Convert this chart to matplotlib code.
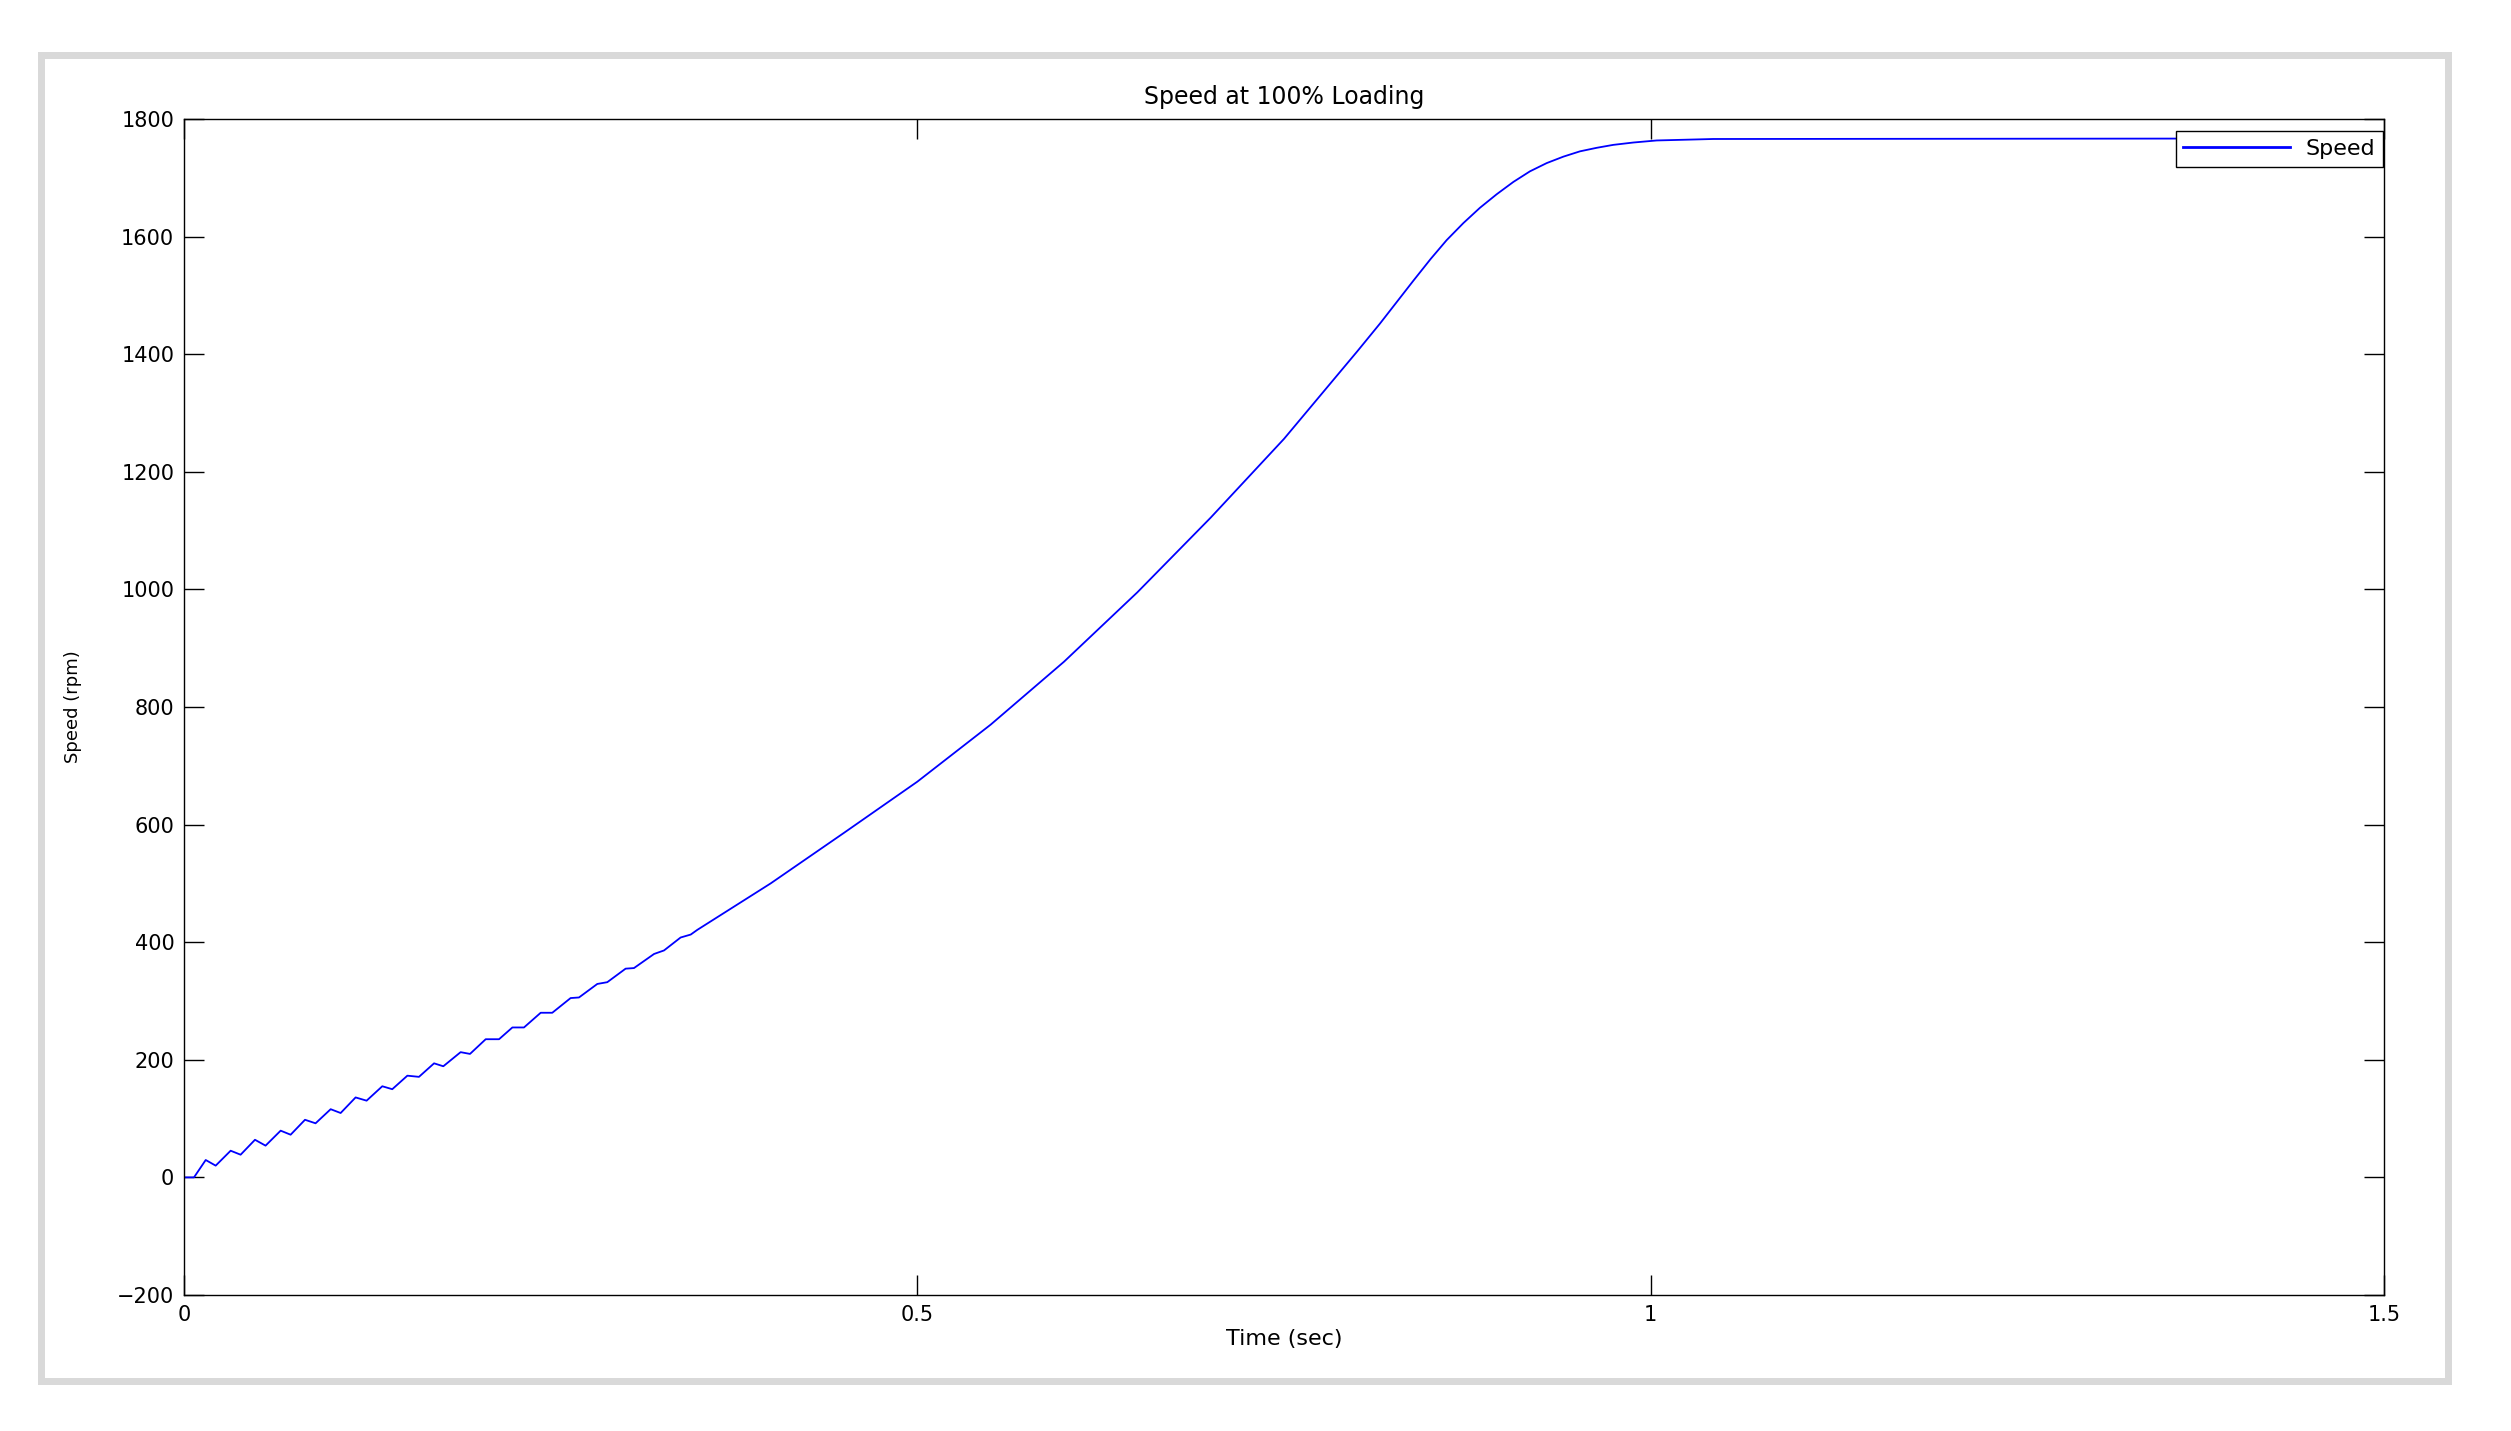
import matplotlib
matplotlib.use("Agg")
import matplotlib.pyplot as plt
from matplotlib.patches import Rectangle

# ---- data ----
time_s = [0, 0.0068, 0.0148, 0.0216, 0.0318, 0.0386, 0.0484, 0.0556, 0.0659, 0.0727,
          0.0825, 0.0897, 0.1000, 0.1068, 0.1170, 0.1245, 0.1352, 0.1420, 0.1523, 0.1602,
          0.1705, 0.1768, 0.1886, 0.1950, 0.2057, 0.2148, 0.2239, 0.2318, 0.2432, 0.2511,
          0.2636, 0.2693, 0.2818, 0.2886, 0.3011, 0.3068, 0.3205, 0.3273, 0.3386, 0.3455,
          0.35, 0.40, 0.45, 0.50, 0.55, 0.60, 0.65, 0.70, 0.75, 0.80,
          0.8154, 0.8382, 0.85, 0.8609, 0.8723, 0.8836, 0.8950, 0.9064, 0.9177, 0.9291,
          0.9405, 0.9518, 0.9632, 0.9745, 0.9882, 1.0041, 1.0427, 1.5]
speed_rpm = [0, 0, 29.6, 20, 45.4, 38.6, 64, 54, 79.5, 72.6,
             98, 92, 116, 109.5, 136, 130.5, 155, 150, 173, 171,
             194, 189, 213, 210, 235, 235, 255, 255, 280, 280,
             305, 306, 329, 332, 355, 356, 380, 386, 408, 413,
             421, 500, 586, 673, 770, 877, 995, 1122, 1256, 1405,
             1452, 1525, 1562, 1594, 1623, 1649, 1672, 1693, 1711, 1725,
             1736, 1745, 1751, 1756, 1760, 1763.5, 1766, 1767]
x_ticks = [0, 0.5, 1, 1.5]
x_tick_labels = ["0", "0.5", "1", "1.5"]
y_ticks = [-200, 0, 200, 400, 600, 800, 1000, 1200, 1400, 1600, 1800]

W, H, DPI = 2511, 1431, 100
fig = plt.figure(figsize=(W / DPI, H / DPI), dpi=DPI, facecolor="white")
plt.rcParams["font.family"] = ["DejaVu Sans"]

# grey outer frame
fr = Rectangle((41.5 / W, 1 - 1380.5 / H), (2447.5 - 41.5) / W, (1380.5 - 54.5) / H,
               transform=fig.transFigure, fill=False, edgecolor="#d9d9d9",
               linewidth=7 * 72 / DPI)
fig.patches.append(fr)

left, right, top, bottom = 184, 2384, 119, 1295
ax = fig.add_axes([left / W, 1 - bottom / H, (right - left) / W, (bottom - top) / H])

ax.plot(time_s, speed_rpm, color="#0000ff", linewidth=1.3, label="Speed")

ax.set_xlim(0, 1.5)
ax.set_ylim(-200, 1800)
ax.set_xticks(x_ticks)
ax.set_xticklabels(x_tick_labels)
ax.set_yticks(y_ticks)
ax.tick_params(direction="in", length=14.4, width=1.0, top=True, right=True,
               labelsize=15, pad=7, colors="black")
for s in ax.spines.values():
    s.set_linewidth(1.0)
    s.set_color("black")

ax.set_title("Speed at 100% Loading", fontsize=17, pad=10.5)
ax.set_xlabel("Time (sec)", fontsize=16, va="baseline")
ax.xaxis.set_label_coords(0.5, (bottom - 1345) / (bottom - top))
ax.set_ylabel("Speed (rpm)", fontsize=13, va="center")
ax.yaxis.set_label_coords((73 - left) / (right - left), 0.5)

leg = ax.legend(loc="upper right",
                bbox_to_anchor=((2383 - left) / (right - left), (bottom - 131) / (bottom - top)),
                borderaxespad=0, fontsize=16, handlelength=4.8, handletextpad=0.7,
                borderpad=0.35, fancybox=False, framealpha=1, edgecolor="black")
leg.get_frame().set_linewidth(1.0)
for ln in leg.get_lines():
    ln.set_linewidth(2.0)

fig.savefig("out.png", dpi=DPI, facecolor="white")
